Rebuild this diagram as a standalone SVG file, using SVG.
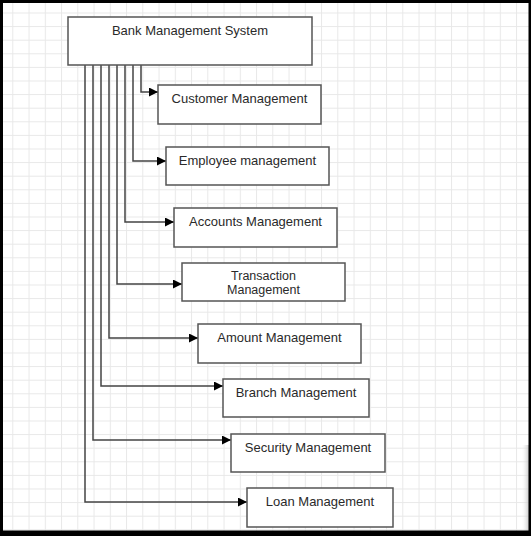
<svg xmlns="http://www.w3.org/2000/svg" width="531" height="536" viewBox="0 0 531 536">
  <style>
    .box { fill: #ffffff; stroke: #555555; stroke-width: 1.5; }
    .lbl { font-family: "Liberation Sans", Arial, sans-serif; font-size: 13px; fill: #2a2a2a; text-anchor: middle; }
    .lbl2 { font-size: 12.5px; }
    .conn { fill: none; stroke: #444444; stroke-width: 1.5; }
  </style>
  <defs>
    <pattern id="grid" patternUnits="userSpaceOnUse" x="12.3" y="12.5" width="16.25" height="13.6">
      <rect width="16.25" height="13.6" fill="#ffffff"/>
      <line x1="0.5" y1="0" x2="0.5" y2="13.6" stroke="#e8e8e8" stroke-width="1"/>
      <line x1="0" y1="0.5" x2="16.25" y2="0.5" stroke="#e8e8e8" stroke-width="1"/>
    </pattern>
    <marker id="arrow" viewBox="0 0 10 10" refX="10" refY="5" markerWidth="10" markerHeight="9" markerUnits="userSpaceOnUse" orient="auto">
      <path d="M0,0 L10,5 L0,10 Z" fill="#000000"/>
    </marker>
    <linearGradient id="shadow" x1="0" y1="0" x2="1" y2="0">
      <stop offset="0" stop-color="#ffffff" stop-opacity="0"/>
      <stop offset="1" stop-color="#bbbbbb" stop-opacity="0.8"/>
    </linearGradient>
  </defs>

  <rect x="0" y="0" width="531" height="536" fill="url(#grid)"/>
  <rect x="521" y="445" width="8" height="86" fill="url(#shadow)"/>

  <g id="connectors">
    <path class="conn" d="M141,65 V92 H158" marker-end="url(#arrow)"/>
    <path class="conn" d="M133,65 V161 H166" marker-end="url(#arrow)"/>
    <path class="conn" d="M125,65 V222 H174" marker-end="url(#arrow)"/>
    <path class="conn" d="M117,65 V284 H182" marker-end="url(#arrow)"/>
    <path class="conn" d="M109,65 V338 H198" marker-end="url(#arrow)"/>
    <path class="conn" d="M101,65 V386 H223" marker-end="url(#arrow)"/>
    <path class="conn" d="M93,65 V440 H231" marker-end="url(#arrow)"/>
    <path class="conn" d="M85,65 V502 H247" marker-end="url(#arrow)"/>
  </g>

  <g id="bank">
    <rect class="box" x="68" y="17" width="244" height="48"/>
    <text class="lbl" x="190" y="35">Bank Management System</text>
  </g>
  <g id="customer">
    <rect class="box" x="158" y="85" width="163" height="39"/>
    <text class="lbl" x="239.5" y="103">Customer Management</text>
  </g>
  <g id="employee">
    <rect class="box" x="166" y="147" width="163" height="38"/>
    <text class="lbl" x="247.5" y="165">Employee management</text>
  </g>
  <g id="accounts">
    <rect class="box" x="174" y="208" width="163" height="39"/>
    <text class="lbl" x="255.5" y="226">Accounts Management</text>
  </g>
  <g id="transaction">
    <rect class="box" x="182" y="263" width="163" height="38"/>
    <text class="lbl lbl2" x="263.5" y="280"><tspan x="263.5" y="280">Transaction</tspan><tspan x="263.5" y="294">Management</tspan></text>
  </g>
  <g id="amount">
    <rect class="box" x="198" y="324" width="163" height="39"/>
    <text class="lbl" x="279.5" y="342">Amount Management</text>
  </g>
  <g id="branch">
    <rect class="box" x="223" y="379" width="146" height="38"/>
    <text class="lbl" x="296" y="397">Branch Management</text>
  </g>
  <g id="security">
    <rect class="box" x="231" y="434" width="154" height="38"/>
    <text class="lbl" x="308" y="452">Security Management</text>
  </g>
  <g id="loan">
    <rect class="box" x="247" y="488" width="146" height="39"/>
    <text class="lbl" x="320" y="506">Loan Management</text>
  </g>

  <g id="frame" fill="#000000">
    <rect x="0" y="0" width="531" height="3"/>
    <rect x="0" y="0" width="3" height="536"/>
    <rect x="528.5" y="0" width="2.5" height="536"/>
    <rect x="0" y="530.5" width="531" height="5.5"/>
  </g>
</svg>
